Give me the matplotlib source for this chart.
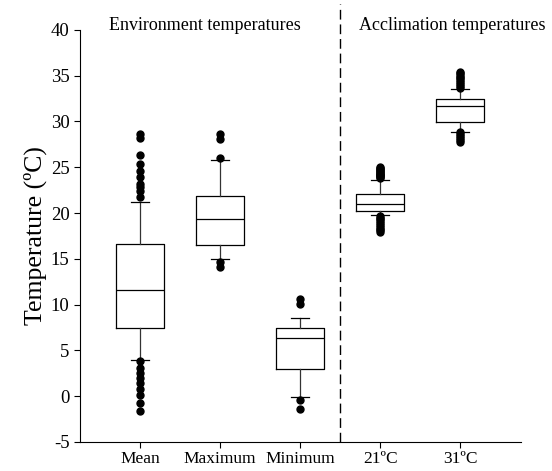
import matplotlib
matplotlib.use('Agg')
import matplotlib.pyplot as plt
import numpy as np

plt.rcParams['font.family'] = ['Liberation Serif', 'DejaVu Serif']
plt.rcParams['axes.unicode_minus'] = False

labels = ['Mean', 'Maximum', 'Minimum', '21ºC', '31ºC']

# box statistics (deg C)
q1 = [7.4, 16.5, 3.0, 20.2, 29.9]
med = [11.6, 19.3, 6.3, 21.0, 31.7]
q3 = [16.6, 21.9, 7.5, 22.1, 32.4]
whis_lo = [4.0, 15.0, -0.1, 19.8, 28.9]
whis_hi = [21.2, 25.8, 8.5, 23.6, 33.5]

fliers_mean = [28.6, 28.2, 26.3, 25.4, 24.6, 23.9, 23.2, 22.8, 22.4, 21.7,
               3.8, 3.1, 2.5, 2.0, 1.4, 0.8, 0.1, -0.7, -1.6]
fliers_max = [28.6, 28.1, 26.0, 14.6, 14.1]
fliers_min = [10.6, 10.1, -0.4, -1.4]
fliers_21 = [23.8, 23.9, 24.0, 24.1, 24.2, 24.3, 24.4, 24.5, 24.6, 24.7,
             24.8, 24.9, 25.0, 19.7, 19.5, 19.3, 19.1, 18.9, 18.7, 18.5,
             18.3, 18.1, 17.9]
fliers_31 = [33.7, 33.9, 34.1, 34.3, 34.5, 34.7, 34.9, 35.1, 35.3, 35.4,
             28.8, 28.6, 28.4, 28.2, 28.0, 27.8]
fliers = [fliers_mean, fliers_max, fliers_min, fliers_21, fliers_31]

stats = []
for i in range(len(labels)):
    stats.append({'med': med[i], 'q1': q1[i], 'q3': q3[i],
                  'whislo': whis_lo[i], 'whishi': whis_hi[i],
                  'fliers': fliers[i], 'label': labels[i]})

fig = plt.figure(figsize=(5.52, 4.71), dpi=100)
ax = fig.add_axes([0.145, 0.0616, 0.799, 0.875])

pos = np.arange(1, len(labels) + 1)
ax.bxp(stats, positions=pos, widths=0.6, patch_artist=False,
       boxprops=dict(color='black', linewidth=0.9),
       medianprops=dict(color='black', linewidth=0.9),
       whiskerprops=dict(color='#333333', linewidth=0.9),
       capprops=dict(color='black', linewidth=0.9),
       capwidths=0.22,
       flierprops=dict(marker='o', markerfacecolor='black',
                       markeredgecolor='black', markersize=5))

ax.axvline(3.5, ymin=0, ymax=1.062, color='black', linewidth=1.0,
           linestyle=(0, (7, 3.5)), clip_on=False)

ax.set_xlim(0.25, 5.76)
ax.set_ylim(-5, 40)
ax.set_yticks(np.arange(-5, 41, 5))
ax.set_xticks(pos)
ax.set_xticklabels(labels, fontsize=12.5)
ax.tick_params(axis='y', labelsize=13.5, direction='out', length=4, width=0.8)
ax.tick_params(axis='x', direction='out', length=4, width=0.8, pad=2.5)
ax.set_ylabel('Temperature (ºC)', fontsize=18.5, labelpad=3)

ax.spines['top'].set_visible(False)
ax.spines['right'].set_visible(False)

ax.text(1.81, 40.5, 'Environment temperatures', ha='center', va='center',
        fontsize=13)
ax.text(4.9, 40.5, 'Acclimation temperatures', ha='center', va='center',
        fontsize=13, clip_on=False)

plt.savefig('out.png', dpi=100)
